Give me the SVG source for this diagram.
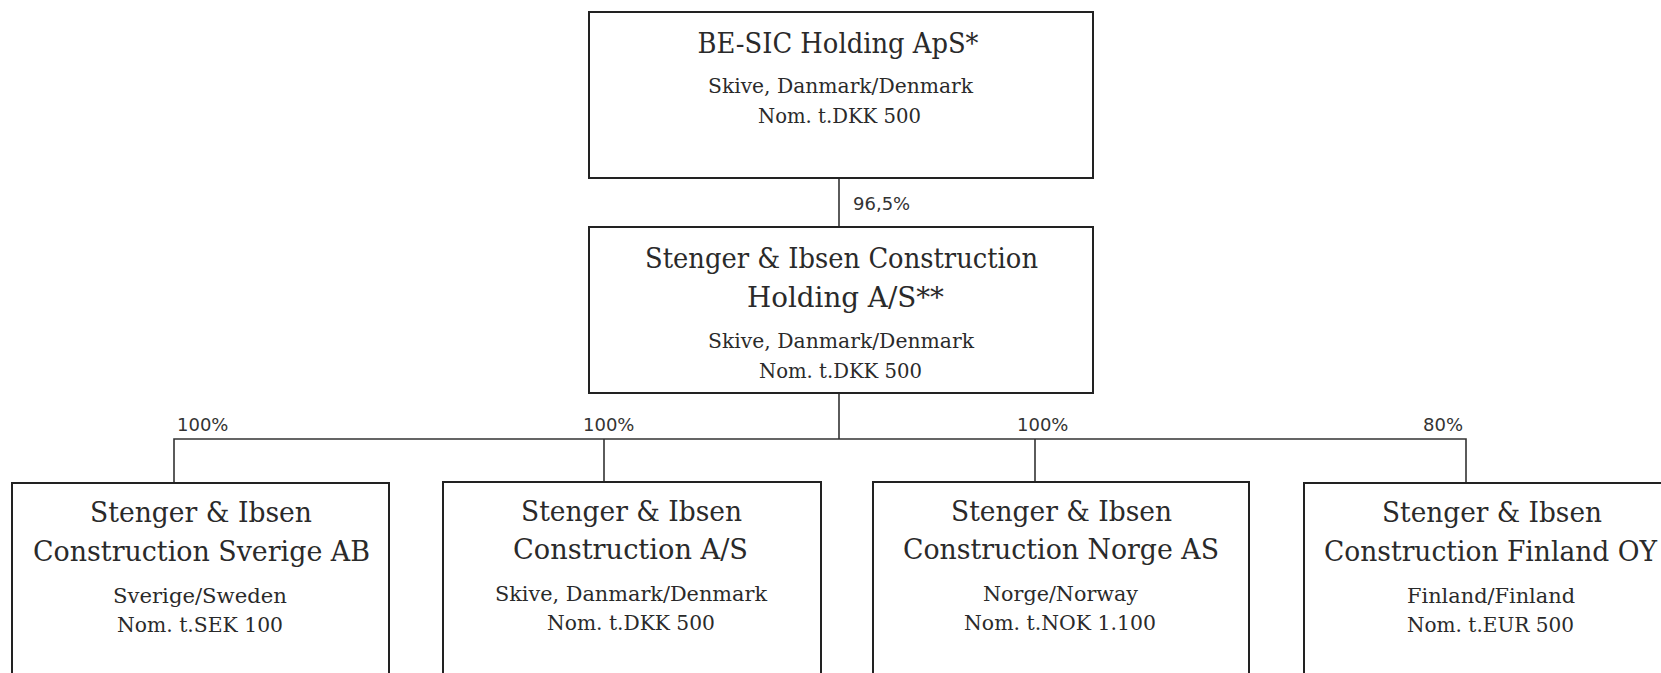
<svg xmlns="http://www.w3.org/2000/svg" width="1661" height="673" viewBox="0 0 1661 673">
<style>
.box{fill:#fff;stroke:#222;stroke-width:2}
.t{font-family:"DejaVu Serif","Liberation Serif",serif;font-size:28px;fill:#2a2a2a;text-anchor:middle}
.s{font-family:"DejaVu Serif","Liberation Serif",serif;font-size:20px;fill:#2a2a2a;text-anchor:middle}
.p{font-family:"DejaVu Sans","Liberation Sans",sans-serif;font-size:18px;fill:#333}
.c{fill:none;stroke:#333;stroke-width:1.6}
</style>
<rect width="1661" height="673" fill="#fff"/>
<g id="connectors">
<path class="c" d="M839 178V227"/>
<path class="c" d="M839 393V439"/>
<path class="c" d="M174 483V439H1466V483"/>
<path class="c" d="M604 439V482"/>
<path class="c" d="M1035 439V482"/>
<text class="p" x="853" y="210">96,5%</text>
<text class="p" x="177" y="431">100%</text>
<text class="p" x="583" y="431">100%</text>
<text class="p" x="1017" y="431">100%</text>
<text class="p" x="1423" y="431">80%</text>
</g>
<g id="besic">
<rect class="box" x="589" y="12" width="504" height="166"/>
<text class="t" x="838" y="53" textLength="281" lengthAdjust="spacingAndGlyphs">BE-SIC Holding ApS*</text>
<text class="s" x="840.5" y="93" textLength="265" lengthAdjust="spacingAndGlyphs">Skive, Danmark/Denmark</text>
<text class="s" x="839.5" y="123" textLength="163" lengthAdjust="spacingAndGlyphs">Nom. t.DKK 500</text>
</g>
<g id="holding">
<rect class="box" x="589" y="227" width="504" height="166"/>
<text class="t" x="841.5" y="268" textLength="393" lengthAdjust="spacingAndGlyphs">Stenger &amp; Ibsen Construction</text>
<text class="t" x="845.5" y="307" textLength="197" lengthAdjust="spacingAndGlyphs">Holding A/S**</text>
<text class="s" x="841" y="348" textLength="266" lengthAdjust="spacingAndGlyphs">Skive, Danmark/Denmark</text>
<text class="s" x="840.5" y="378" textLength="163" lengthAdjust="spacingAndGlyphs">Nom. t.DKK 500</text>
</g>
<g id="sverige">
<rect class="box" x="12" y="483" width="377" height="200"/>
<text class="t" x="201" y="522" textLength="222" lengthAdjust="spacingAndGlyphs">Stenger &amp; Ibsen</text>
<text class="t" x="201.5" y="561" textLength="337" lengthAdjust="spacingAndGlyphs">Construction Sverige AB</text>
<text class="s" x="200" y="603" textLength="174" lengthAdjust="spacingAndGlyphs">Sverige/Sweden</text>
<text class="s" x="200" y="632" textLength="166" lengthAdjust="spacingAndGlyphs">Nom. t.SEK 100</text>
</g>
<g id="danmark">
<rect class="box" x="443" y="482" width="378" height="200"/>
<text class="t" x="631.5" y="521" textLength="221" lengthAdjust="spacingAndGlyphs">Stenger &amp; Ibsen</text>
<text class="t" x="630.5" y="559" textLength="235" lengthAdjust="spacingAndGlyphs">Construction A/S</text>
<text class="s" x="631" y="601" textLength="272" lengthAdjust="spacingAndGlyphs">Skive, Danmark/Denmark</text>
<text class="s" x="631" y="630" textLength="168" lengthAdjust="spacingAndGlyphs">Nom. t.DKK 500</text>
</g>
<g id="norge">
<rect class="box" x="873" y="482" width="376" height="200"/>
<text class="t" x="1061.5" y="521" textLength="221" lengthAdjust="spacingAndGlyphs">Stenger &amp; Ibsen</text>
<text class="t" x="1061" y="559" textLength="316" lengthAdjust="spacingAndGlyphs">Construction Norge AS</text>
<text class="s" x="1060.5" y="601" textLength="155" lengthAdjust="spacingAndGlyphs">Norge/Norway</text>
<text class="s" x="1060" y="630" textLength="192" lengthAdjust="spacingAndGlyphs">Nom. t.NOK 1.100</text>
</g>
<g id="finland">
<rect class="box" x="1304" y="483" width="377" height="200"/>
<text class="t" x="1492" y="522" textLength="220" lengthAdjust="spacingAndGlyphs">Stenger &amp; Ibsen</text>
<text class="t" x="1490.5" y="561" textLength="333" lengthAdjust="spacingAndGlyphs">Construction Finland OY</text>
<text class="s" x="1491" y="603" textLength="168" lengthAdjust="spacingAndGlyphs">Finland/Finland</text>
<text class="s" x="1490.5" y="632" textLength="167" lengthAdjust="spacingAndGlyphs">Nom. t.EUR 500</text>
</g>
</svg>
